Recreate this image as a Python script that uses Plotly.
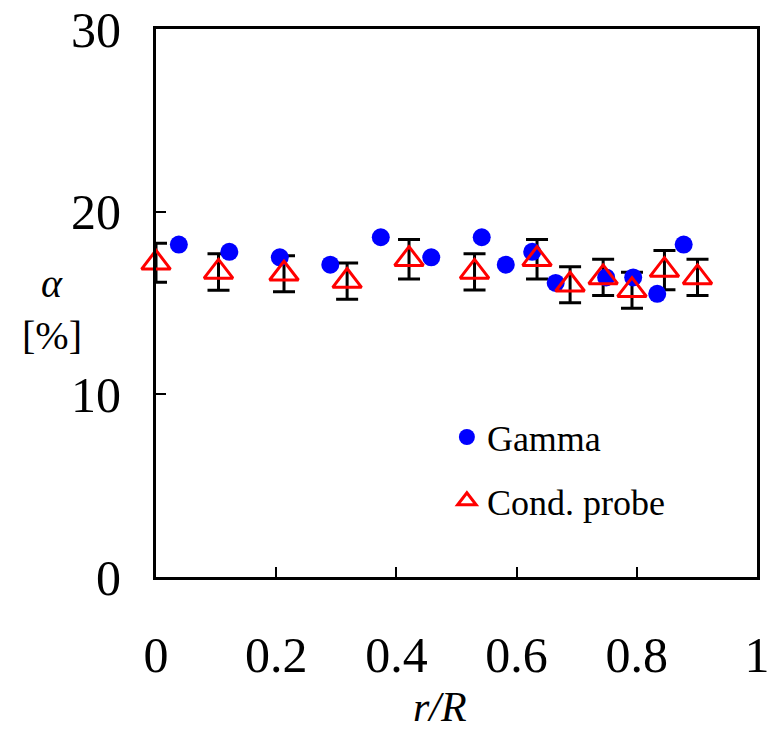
import plotly.graph_objects as go

# ---- data ----
gamma_r = [0.038, 0.122, 0.206, 0.290, 0.374, 0.458, 0.542, 0.582, 0.626, 0.665, 0.749, 0.794, 0.834, 0.878]
gamma_alpha = [18.2, 17.8, 17.5, 17.1, 18.6, 17.5, 18.6, 17.1, 17.8, 16.1, 16.4, 16.4, 15.5, 18.2]

probe_r = [0.0, 0.104, 0.213, 0.318, 0.421, 0.530, 0.634, 0.689, 0.744, 0.792, 0.846, 0.901]
probe_alpha = [17.2, 16.7, 16.6, 16.2, 17.4, 16.7, 17.4, 16.0, 16.4, 15.7, 16.8, 16.4]
probe_err = [1.07, 1.0, 0.98, 0.99, 1.08, 0.99, 1.08, 0.98, 0.99, 0.99, 1.08, 0.99]

x_ticks = [0, 0.2, 0.4, 0.6, 0.8, 1]
x_tick_text = ["0", "0.2", "0.4", "0.6", "0.8", "1"]
y_ticks = [0, 10, 20, 30]
y_tick_text = ["0", "10", "20", "30"]

FONT = "Liberation Serif"

fig = go.Figure()

# error bars (black) for the conductivity probe
fig.add_trace(go.Scatter(
    x=probe_r, y=probe_alpha, mode="markers",
    marker=dict(size=1, color="rgba(0,0,0,0)"),
    error_y=dict(type="data", array=probe_err, visible=True,
                 color="black", thickness=3, width=11),
    showlegend=False, cliponaxis=False, hoverinfo="skip",
))

fig.add_trace(go.Scatter(
    x=gamma_r, y=gamma_alpha, mode="markers", name="Gamma",
    marker=dict(symbol="circle", size=18, color="#0000FF"),
    cliponaxis=False, legendgroup="g1",
))

fig.add_trace(go.Scatter(
    x=probe_r, y=probe_alpha, mode="markers", name="Cond. probe",
    marker=dict(symbol="triangle-up-open", size=25, color="#FF0000",
                line=dict(width=3, color="#FF0000")),
    cliponaxis=False, legendgroup="g2",
))

fig.update_layout(
    width=778, height=731,
    margin=dict(l=156, r=21, t=29, b=153.5, autoexpand=False),
    paper_bgcolor="white", plot_bgcolor="white",
    font=dict(family=FONT, color="black"),
    showlegend=True,
    legend=dict(x=0.484, y=0.31, xanchor="left", yanchor="top",
                font=dict(family=FONT, size=36, color="black"),
                bgcolor="rgba(0,0,0,0)", tracegroupgap=14,
                traceorder="grouped"),
    xaxis=dict(range=[0, 1], tickvals=x_ticks, ticktext=x_tick_text,
               automargin=False,
               showgrid=False, zeroline=False,
               showline=True, linecolor="black", linewidth=3, mirror=True,
               ticks="inside", ticklen=10, tickwidth=1.5, tickcolor="black",
               ticklabelstandoff=32,
               tickfont=dict(family=FONT, size=50, color="black")),
    yaxis=dict(range=[0, 30], tickvals=y_ticks, ticktext=y_tick_text,
               automargin=False,
               showgrid=False, zeroline=False,
               showline=True, linecolor="black", linewidth=3, mirror=True,
               ticks="inside", ticklen=10, tickwidth=1.5, tickcolor="black",
               ticklabelstandoff=22,
               tickfont=dict(family=FONT, size=50, color="black")),
    annotations=[
        dict(text="<i>α</i>", x=52, y=284, xref="paper", yref="paper",
             showarrow=False, font=dict(family=FONT, size=40, color="black")),
        dict(text="[%]", x=52, y=336, xref="paper", yref="paper",
             showarrow=False, font=dict(family=FONT, size=40, color="black")),
        dict(text="<i>r/R</i>", x=440, y=708, xref="paper", yref="paper",
             showarrow=False, font=dict(family=FONT, size=42, color="black")),
    ],
)

# convert pixel positions of the free text to paper coordinates
L, R, T, B = 156, 757, 29, 577.5
for a in fig.layout.annotations:
    a.x = (a.x - L) / (R - L)
    a.y = (B - a.y) / (B - T)
    a.xanchor = "center"
    a.yanchor = "middle"
    a.borderpad = 0

fig.write_html("out.html")
